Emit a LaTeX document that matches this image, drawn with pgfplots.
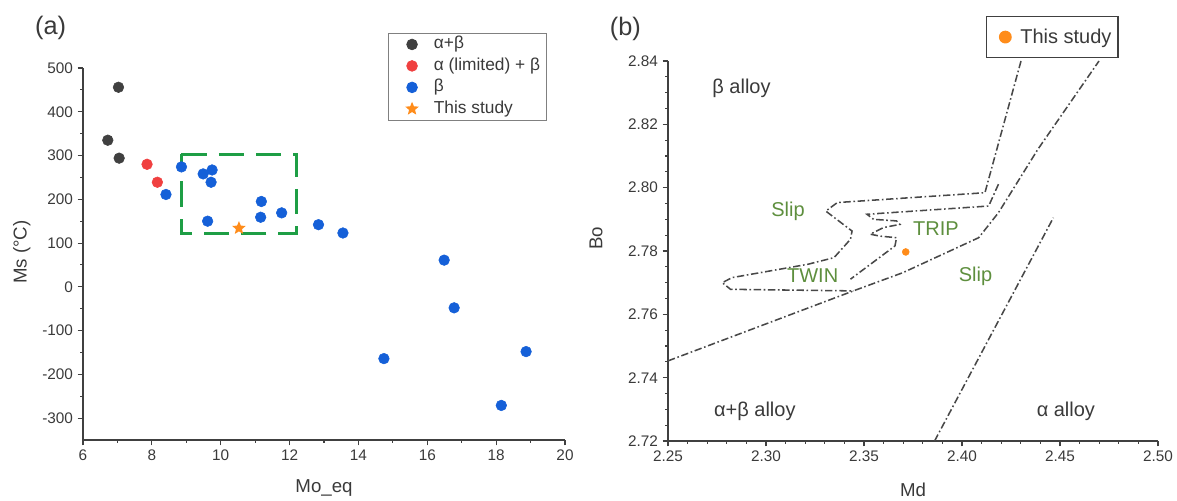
\documentclass[border=0pt]{standalone}
\usepackage{fontspec}
\setmainfont{Liberation Sans}
\usepackage{pgfplots}
\pgfplotsset{compat=1.18}

\definecolor{dkgray}{HTML}{404040}
\definecolor{ptred}{HTML}{F04040}
\definecolor{ptblue}{HTML}{1560D8}
\definecolor{ptorange}{HTML}{FF8C1A}
\definecolor{boxgreen}{HTML}{1E9E45}
\definecolor{lblgreen}{HTML}{5E8F3E}
\definecolor{linegray}{HTML}{484848}
\definecolor{txtgray}{HTML}{3A3A3A}

% filled five-pointed star
\pgfdeclareplotmark{fstar}{%
  \pgfpathmoveto{\pgfpointpolar{90}{\pgfplotmarksize}}%
  \pgfpathlineto{\pgfpointpolar{126}{0.45\pgfplotmarksize}}%
  \pgfpathlineto{\pgfpointpolar{162}{\pgfplotmarksize}}%
  \pgfpathlineto{\pgfpointpolar{198}{0.45\pgfplotmarksize}}%
  \pgfpathlineto{\pgfpointpolar{234}{\pgfplotmarksize}}%
  \pgfpathlineto{\pgfpointpolar{270}{0.45\pgfplotmarksize}}%
  \pgfpathlineto{\pgfpointpolar{306}{\pgfplotmarksize}}%
  \pgfpathlineto{\pgfpointpolar{342}{0.45\pgfplotmarksize}}%
  \pgfpathlineto{\pgfpointpolar{18}{\pgfplotmarksize}}%
  \pgfpathlineto{\pgfpointpolar{54}{0.45\pgfplotmarksize}}%
  \pgfpathclose
  \pgfusepathqfill
}

\pgfplotsset{
  panel/.style={
    scale only axis,
    anchor=south west,
    axis lines=left,
    axis line style={-, draw=dkgray, line width=1pt},
    tick align=outside,
    major tick length=4pt,
    minor tick length=2.2pt,
    every tick/.style={dkgray, line width=0.8pt},
    tick label style={font=\fontsize{11.5}{13}\selectfont, text=txtgray},
    /pgf/number format/assume math mode=true,
    label style={font=\fontsize{14}{16}\selectfont, text=txtgray},
    clip=false,
  },
  phase/.style={linegray, line width=1.15pt, dash pattern=on 5.5pt off 2pt on 1.2pt off 2pt, no marks},
}

\begin{document}
\begin{tikzpicture}
\useasboundingbox (0,0) rectangle (882.75pt,375pt);

\node[font=\fontsize{19}{22}\selectfont, text=txtgray] at (38pt,354pt) {(a)};
\node[font=\fontsize{19}{22}\selectfont, text=txtgray] at (469pt,353pt) {(b)};

% ---------- panel (a)
\begin{axis}[panel,
  at={(62.25pt,45pt)},
  width=361.5pt, height=279pt,
  xmin=6, xmax=20, ymin=-350, ymax=500,
  xtick={6,8,...,20},
  ytick={-300,-200,...,500},
  minor x tick num=1, minor y tick num=1,
  xlabel={Mo\_eq},
  ylabel={Ms (°C)},
  xlabel style={at={(axis description cs:0.5,-0.129)}, anchor=center},
  ylabel style={at={(axis description cs:-0.127,0.505)}, anchor=center},
  legend cell align=left,
  legend image code/.code={\path[draw=none] (0cm,0cm) (0.95cm,0cm); \draw[#1] plot coordinates {(0.48cm,0cm)};},
  legend style={at={(0.633,1.095)}, anchor=north west,
    draw=gray, line width=0.6pt, font=\fontsize{13}{15}\selectfont,
    text=txtgray, inner xsep=4pt, inner ysep=0.5pt, row sep=0pt,
    nodes={inner xsep=1pt, inner ysep=1.8pt, text height=9.5pt, text depth=3pt},
    /tikz/every odd column/.append style={column sep=2pt}},
]
\addplot[forget plot, boxgreen, line width=2.1pt, dash pattern=on 19pt off 9pt]
  coordinates {(8.86,303) (12.19,303) (12.19,121) (8.86,121) (8.86,303)};

\addplot[only marks, mark=*, mark size=4pt, dkgray] coordinates {
  (7.03,456) (6.72,335) (7.05,294)
};
\addlegendentry{α+β}
\addplot[only marks, mark=*, mark size=4pt, ptred] coordinates {
  (7.86,280) (8.16,239)
};
\addlegendentry{α (limited) + β}
\addplot[only marks, mark=*, mark size=4pt, ptblue] coordinates {
  (8.41,211) (8.86,274) (9.49,258) (9.75,267) (9.72,239) (9.62,150)
  (11.18,195) (11.16,159) (11.77,169) (12.84,142) (13.55,123)
  (16.49,61) (16.78,-48) (14.74,-164) (18.15,-271) (18.87,-148)
};
\addlegendentry{β}
\addplot[only marks, mark=fstar, mark size=5.3pt, ptorange] coordinates {
  (10.53,134)
};
\addlegendentry{This study}
\end{axis}

% ---------- panel (b)
\begin{axis}[panel,
  at={(501pt,44.25pt)},
  width=367.5pt, height=285pt,
  xmin=2.25, xmax=2.50, ymin=2.72, ymax=2.84,
  xtick={2.25,2.30,2.35,2.40,2.45,2.50},
  ytick={2.72,2.74,2.76,2.78,2.80,2.82,2.84},
  minor x tick num=4, minor y tick num=3,
  xticklabel style={/pgf/number format/.cd, fixed, fixed zerofill, precision=2},
  yticklabel style={/pgf/number format/.cd, fixed, fixed zerofill, precision=2},
  xlabel={Md},
  ylabel={Bo},
  xlabel style={at={(axis description cs:0.5,-0.129)}, anchor=center},
  ylabel style={at={(axis description cs:-0.147,0.534)}, anchor=center},
  legend image code/.code={\path[draw=none] (0cm,0cm) (0.72cm,0cm); \draw[#1] plot coordinates {(0.36cm,0cm)};},
  legend style={at={(0.920,1.118)}, anchor=north east,
    draw=dkgray, line width=1pt, font=\fontsize{15}{17}\selectfont,
    text=txtgray, inner xsep=4pt, inner ysep=7pt,
    nodes={inner xsep=1pt}},
]
\addlegendimage{only marks, mark=*, mark size=4.3pt, ptorange}
\addlegendentry{This study}

\addplot[phase, forget plot] coordinates {
  (2.4301,2.84) (2.4117,2.7984) (2.3364,2.7953) (2.3305,2.7926)
  (2.3439,2.7863) (2.3431,2.7837) (2.3347,2.7779) (2.3213,2.7758)
  (2.2827,2.7716) (2.2777,2.7700) (2.2819,2.7679) (2.3448,2.7674)
};
\addplot[phase, forget plot] coordinates {
  (2.4186,2.8011) (2.4136,2.7942) (2.3515,2.7916) (2.3549,2.7900)
  (2.3666,2.7895) (2.3683,2.7884) (2.3599,2.7874) (2.3532,2.7853)
  (2.3582,2.7847) (2.3666,2.7842) (2.3658,2.7816) (2.3431,2.7711)
};
\addplot[phase, forget plot] coordinates {
  (2.25,2.7453) (2.345,2.7675) (2.37,2.7732) (2.4085,2.7842)
  (2.4186,2.7921) (2.4387,2.8121) (2.4699,2.84)
};
\addplot[phase, forget plot] coordinates {
  (2.3860,2.72) (2.4466,2.7905)
};

\addplot[forget plot, only marks, mark=*, mark size=2.6pt, ptorange] coordinates {
  (2.3713,2.7797)
};

\begin{scope}[font=\fontsize{15}{17}\selectfont]
\node[text=txtgray] at (axis cs:2.2875,2.8314) {β alloy};
\node[text=txtgray] at (axis cs:2.2943,2.7295) {α+β alloy};
\node[text=txtgray] at (axis cs:2.4530,2.7295) {α alloy};
\node[text=lblgreen] at (axis cs:2.3112,2.7926) {Slip};
\node[text=lblgreen] at (axis cs:2.3867,2.7872) {TRIP};
\node[text=lblgreen] at (axis cs:2.3238,2.7721) {TWIN};
\node[text=lblgreen] at (axis cs:2.4069,2.7719) {Slip};
\end{scope}
\end{axis}
\end{tikzpicture}
\end{document}
